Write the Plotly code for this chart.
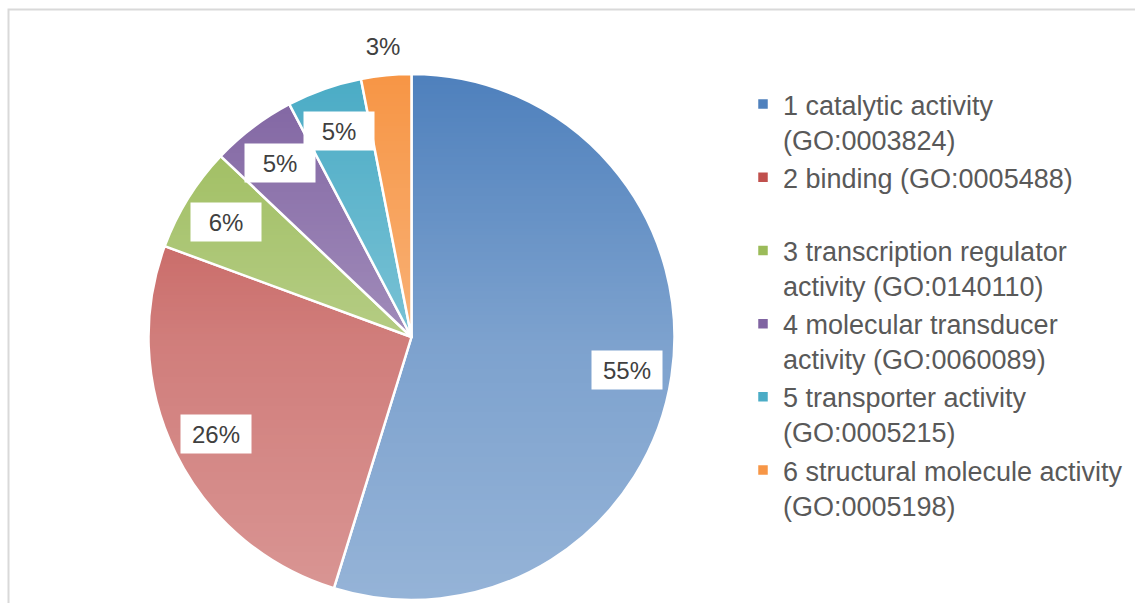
import base64
import math
import struct
import zlib

import plotly.graph_objects as go

# Molecular-function GO categories (gene counts)
categories = [
    "1 catalytic activity<br>(GO:0003824)",
    "2 binding (GO:0005488)<br>\u00a0",
    "3 transcription regulator<br>activity (GO:0140110)",
    "4 molecular transducer<br>activity (GO:0060089)",
    "5 transporter activity<br>(GO:0005215)",
    "6 structural molecule activity<br>(GO:0005198)",
]
gene_counts = [178, 84, 21, 17, 15, 10]
slice_colors = ["#4F81BD", "#C0504D", "#9BBB59", "#8064A2", "#4BACC6", "#F79646"]
label_outside = [False, False, False, False, False, True]

W, H = 1135, 603
CX, CY, R = 411.5, 337.0, 263.0  # pie centre / radius in px


def gradient_png(stops, n=256):
    """1-pixel-wide white PNG whose alpha follows piecewise-linear stops."""
    rows = b""
    for i in range(n):
        t = i / (n - 1)
        for (t0, a0), (t1, a1) in zip(stops[:-1], stops[1:]):
            if t0 <= t <= t1:
                a = a0 + (a1 - a0) * (t - t0) / (t1 - t0)
                break
        rows += b"\x00" + bytes([255, 255, 255, int(round(a * 255))])

    def chunk(tag, data):
        c = struct.pack(">I", len(data)) + tag + data
        return c + struct.pack(">I", zlib.crc32(tag + data) & 0xFFFFFFFF)

    png = b"\x89PNG\r\n\x1a\n"
    png += chunk(b"IHDR", struct.pack(">IIBBBBB", 1, n, 8, 6, 0, 0, 0))
    png += chunk(b"IDAT", zlib.compress(rows))
    png += chunk(b"IEND", b"")
    return "data:image/png;base64," + base64.b64encode(png).decode()


dom_x = [(CX - R) / W, (CX + R) / W]
dom_y = [1 - (CY + R) / H, 1 - (CY - R) / H]

fig = go.Figure(
    go.Pie(
        labels=categories,
        values=gene_counts,
        sort=False,
        direction="clockwise",
        rotation=0,
        textinfo="none",
        hoverinfo="label+value+percent",
        marker=dict(colors=slice_colors, line=dict(color="white", width=2.5)),
        domain=dict(x=dom_x, y=dom_y),
        showlegend=True,
    )
)

# percentage labels placed along each slice's bisector
total = sum(gene_counts)
cum = 0.0
annotations = []
for v, outside in zip(gene_counts, label_outside):
    mid = (cum + v / 2) / total * 2 * math.pi
    cum += v
    rl = R * (1.11 if outside else 0.83)
    px = CX + rl * math.sin(mid)
    py = CY - rl * math.cos(mid)
    annotations.append(dict(
        x=px / W, y=1 - py / H, xref="paper", yref="paper",
        text=f"{v / total * 100:.0f}%", showarrow=False,
        font=dict(family="Liberation Sans, Arial, sans-serif", size=24, color="#404040"),
        bgcolor="rgba(0,0,0,0)" if outside else "white",
        width=58, height=26, borderpad=6, xanchor="center", yanchor="middle",
    ))

fig.update_layout(
    width=W, height=H,
    margin=dict(l=0, r=0, t=0, b=0),
    paper_bgcolor="white",
    plot_bgcolor="white",
    annotations=annotations,
    legend=dict(
        x=743 / W, y=1 - 80 / H, xanchor="left", yanchor="top",
        valign="top",
        font=dict(family="Liberation Sans, Arial, sans-serif", size=27, color="#595959"),
        bgcolor="rgba(0,0,0,0)",
    ),
    images=[dict(
        source=gradient_png([(0.0, 0.0), (0.5, 0.26), (1.0, 0.4)]),
        xref="paper", yref="paper",
        x=dom_x[0], y=dom_y[1], sizex=dom_x[1] - dom_x[0], sizey=dom_y[1] - dom_y[0],
        xanchor="left", yanchor="top", sizing="stretch", layer="above",
    )],
    shapes=[dict(
        type="rect", xref="paper", yref="paper",
        x0=8.5 / W, x1=1.02, y0=-0.02, y1=1 - 9.5 / H,
        line=dict(color="#D9D9D9", width=2), fillcolor="rgba(0,0,0,0)",
    )],
)

fig.write_html("out.html", config={"displayModeBar": False})
